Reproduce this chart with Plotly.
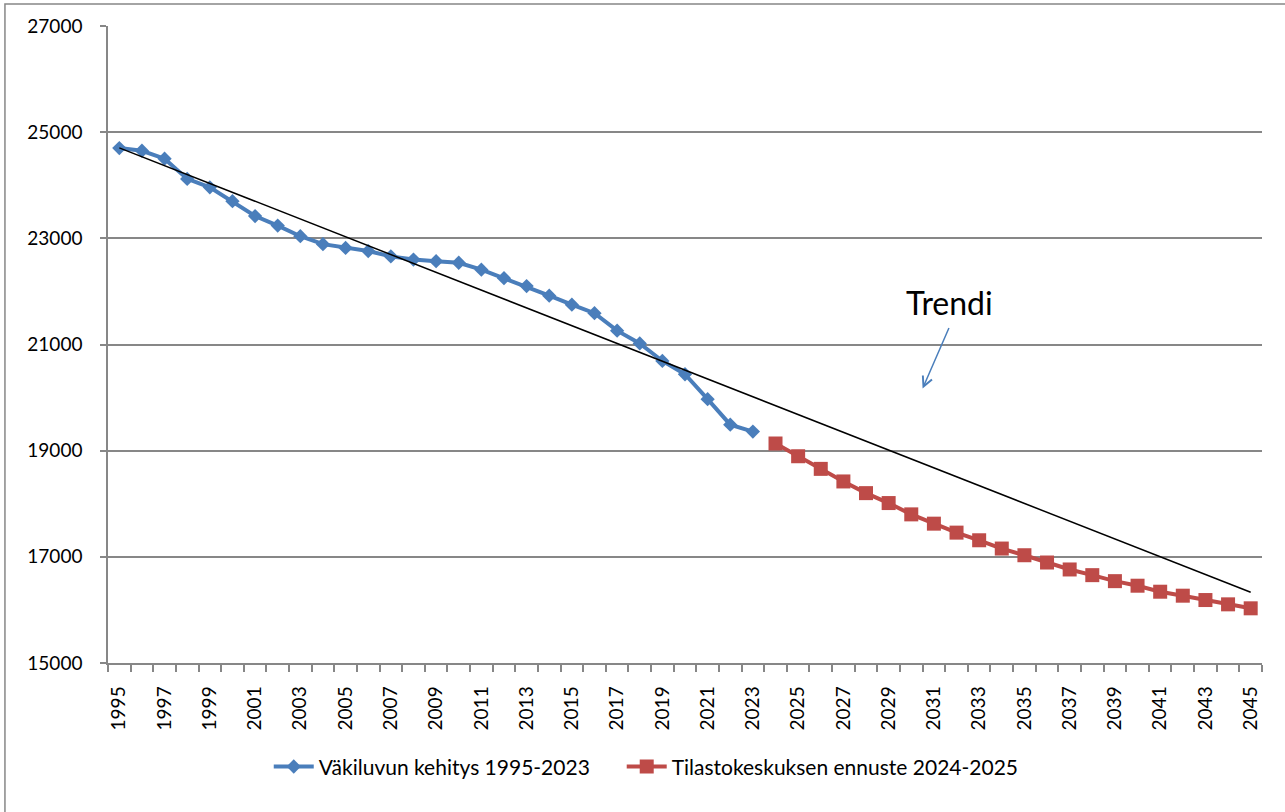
import numpy as np
import plotly.graph_objects as go

hist_years = list(range(1995, 2024))
hist_values = [24700, 24650, 24500, 24120, 23960, 23700, 23420, 23240, 23040, 22890,
               22820, 22760, 22660, 22600, 22570, 22540, 22410, 22250, 22100, 21920,
               21750, 21590, 21260, 21020, 20690, 20440, 19970, 19490, 19360]
fc_years = list(range(2024, 2046))
fc_values = [19135, 18895, 18657, 18420, 18200, 18013, 17800, 17625, 17456, 17312,
             17156, 17030, 16893, 16762, 16655, 16542, 16456, 16343, 16268, 16186,
             16105, 16030]
hist_name = "Väkiluvun kehitys 1995-2023"
fc_name = "Tilastokeskuksen ennuste 2024-2025"
tick_years = list(range(1995, 2046, 2))

# Linear trendline (least squares over the historical series), extended to 2045
slope, intercept = np.polyfit(hist_years, hist_values, 1)
trend_x = [hist_years[0], fc_years[-1]]
trend_y = [slope * x + intercept for x in trend_x]

FONT = "Lato"
GRID = "#878787"
BLUE = "#4a7ebb"
RED = "#be4b48"

fig = go.Figure()
fig.add_trace(go.Scatter(
    x=hist_years, y=hist_values, name=hist_name + "\u00a0" * 5, mode="lines+markers",
    line=dict(color=BLUE, width=4),
    marker=dict(symbol="diamond", size=11, color=BLUE),
))
fig.add_trace(go.Scatter(
    x=fc_years, y=fc_values, name=fc_name, mode="lines+markers",
    line=dict(color=RED, width=4),
    marker=dict(symbol="square", size=14, color=RED),
))
fig.add_trace(go.Scatter(
    x=trend_x, y=trend_y, mode="lines", showlegend=False,
    line=dict(color="black", width=1.5), hoverinfo="skip",
))

fig.update_xaxes(
    range=[1994.5, 2045.5],
    tickmode="array", tickvals=tick_years, ticktext=[str(y) for y in tick_years],
    tickangle=-90, ticks="", showgrid=False,
    showline=True, linecolor=GRID, linewidth=1.5,
    tickfont=dict(family=FONT, size=19, color="black"),
    ticklabelstandoff=14,
    minor=dict(ticks="outside", tick0=1994.5, dtick=1, ticklen=7,
               tickcolor=GRID, tickwidth=1.5, showgrid=False),
    zeroline=False,
)
fig.update_yaxes(
    range=[15000, 27000], dtick=2000, tick0=15000, tickformat="d",
    ticks="outside", ticklen=6, tickcolor=GRID, tickwidth=1.5,
    showgrid=True, gridcolor=GRID, gridwidth=1.5,
    showline=True, linecolor=GRID, linewidth=1.5,
    tickfont=dict(family=FONT, size=19, color="black"),
    ticklabelstandoff=14,
    zeroline=False,
)

fig.add_annotation(
    x=2031.7, y=21800, text="Trendi", showarrow=False,
    font=dict(family=FONT, size=32, color="black"),
)
fig.add_annotation(
    x=2030.5, y=20170, text="", showarrow=True,
    ax=27, ay=-62, arrowhead=5, arrowsize=1.3, arrowwidth=1.5,
    arrowcolor=BLUE,
)

# outer chart frame
fig.add_shape(type="rect", xref="paper", yref="paper",
              x0=-0.0893, y0=-0.5, x1=1.5, y1=1.0345,
              line=dict(color=GRID, width=1.5), fillcolor="rgba(0,0,0,0)")

fig.update_layout(
    width=1285, height=812,
    margin=dict(l=108, r=23, t=26, b=149),
    paper_bgcolor="white", plot_bgcolor="white",
    showlegend=True,
    legend=dict(orientation="h", x=0.1393, xanchor="left", y=-0.163, yanchor="middle",
                font=dict(family=FONT, size=21, color="black"),
                itemwidth=40, bgcolor="rgba(0,0,0,0)"),
)

fig.write_html(
    "out.html",
    config={"displayModeBar": False},
    post_script="document.body.style.margin='0px';document.body.style.overflow='hidden';",
)
